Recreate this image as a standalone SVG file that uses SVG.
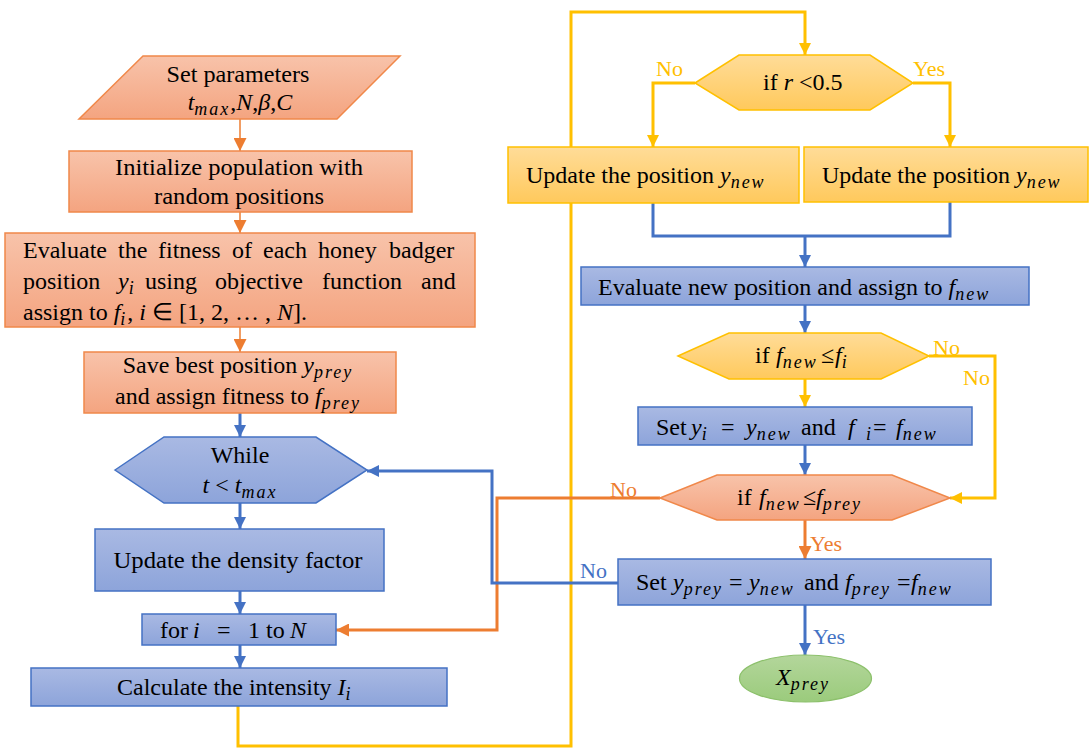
<svg xmlns="http://www.w3.org/2000/svg" width="1089" height="749" viewBox="0 0 1089 749">
<defs>
<linearGradient id="gO" x1="0" y1="0" x2="0" y2="1"><stop offset="0" stop-color="#F8C3AA"/><stop offset="1" stop-color="#F4A480"/></linearGradient>
<linearGradient id="gB" x1="0" y1="0" x2="0" y2="1"><stop offset="0" stop-color="#A9B9E3"/><stop offset="1" stop-color="#8DA4DA"/></linearGradient>
<linearGradient id="gY" x1="0" y1="0" x2="0" y2="1"><stop offset="0" stop-color="#FFDC98"/><stop offset="1" stop-color="#FFC95C"/></linearGradient>
<linearGradient id="gG" x1="0" y1="0" x2="0" y2="1"><stop offset="0" stop-color="#B3D69B"/><stop offset="1" stop-color="#9BCB7C"/></linearGradient>
<marker id="aO" viewBox="0 0 10 10" refX="10" refY="5" markerWidth="13" markerHeight="13" markerUnits="userSpaceOnUse" orient="auto"><path d="M0,0 L10,5 L0,10 z" fill="#ED7D31"/></marker>
<marker id="aB" viewBox="0 0 10 10" refX="10" refY="5" markerWidth="12" markerHeight="12" markerUnits="userSpaceOnUse" orient="auto"><path d="M0,0 L10,5 L0,10 z" fill="#4472C4"/></marker>
<marker id="aY" viewBox="0 0 10 10" refX="10" refY="5" markerWidth="12" markerHeight="12" markerUnits="userSpaceOnUse" orient="auto"><path d="M0,0 L10,5 L0,10 z" fill="#FFC000"/></marker>
</defs>
<style>
.o{fill:url(#gO);stroke:#F0884A;stroke-width:1.5}
.b{fill:url(#gB);stroke:#4472C4;stroke-width:1.5}
.y{fill:url(#gY);stroke:#FFC000;stroke-width:1.5}
.g{fill:url(#gG);stroke:#8CC06B;stroke-width:1.2}
.t{font-family:"Liberation Serif","Times New Roman",serif;font-size:24px;fill:#000}
.c{text-anchor:middle}
.m{font-style:italic}
.s{font-style:italic;font-size:18px;letter-spacing:2px}
.l{font-family:"Liberation Serif","Times New Roman",serif;font-size:22px}
.cO{fill:none;stroke:#ED7D31}
.cB{fill:none;stroke:#4472C4;stroke-width:3}
.cY{fill:none;stroke:#FFC000;stroke-width:3}
</style>

<g id="connectors" stroke-linejoin="miter">
<path class="cO" stroke-width="1.5" d="M240,119 V151" marker-end="url(#aO)"/>
<path class="cO" stroke-width="1.5" d="M240,212 V233" marker-end="url(#aO)"/>
<path class="cO" stroke-width="1.5" d="M240,327 V352" marker-end="url(#aO)"/>
<path class="cB" d="M240,413 V437" marker-end="url(#aB)"/>
<path class="cB" d="M240,503 V529" marker-end="url(#aB)"/>
<path class="cB" d="M240,591 V614" marker-end="url(#aB)"/>
<path class="cB" d="M240,645 V668" marker-end="url(#aB)"/>
<path class="cY" d="M238,706 V746 H571 V12 H805 V55" marker-end="url(#aY)"/>
<path class="cY" d="M695,83 H653 V147" marker-end="url(#aY)"/>
<path class="cY" d="M913,83 H950 V147" marker-end="url(#aY)"/>
<path class="cB" d="M653,203 V236 H950 V202"/>
<path class="cB" d="M805,236 V267" marker-end="url(#aB)"/>
<path class="cB" d="M805,305 V333" marker-end="url(#aB)"/>
<path class="cY" d="M805,379 V407" marker-end="url(#aY)"/>
<path class="cY" d="M929,356 H995 V498 H950" marker-end="url(#aY)"/>
<path class="cB" d="M805,445 V475" marker-end="url(#aB)"/>
<path class="cO" stroke-width="3" d="M660,498 H497 V630 H336" marker-end="url(#aO)"/>
<path class="cO" stroke-width="3" d="M805,520 V559" marker-end="url(#aO)"/>
<path class="cB" d="M618,583 H492 V471 H367" marker-end="url(#aB)"/>
<path class="cB" d="M805,605 V655" marker-end="url(#aB)"/>
<text class="l" x="656" y="76" fill="#FFC000">No</text>
<text class="l" x="913" y="76" fill="#FFC000">Yes</text>
<text class="l" x="933" y="355" fill="#FFC000">No</text>
<text class="l" x="963" y="385" fill="#FFC000">No</text>
<text class="l" x="610" y="497" fill="#ED7D31">No</text>
<text class="l" x="810" y="551" fill="#ED7D31">Yes</text>
<text class="l" x="580" y="578" fill="#4472C4">No</text>
<text class="l" x="813" y="644" fill="#4472C4">Yes</text>
</g>

<g id="n1">
<polygon class="o" points="143,56 400,56 337,119 79,119"/>
<text class="t c" x="238" y="82" textLength="143" lengthAdjust="spacingAndGlyphs">Set parameters</text>
<text class="t c" x="240" y="110"><tspan class="m">t</tspan><tspan class="s" dy="5">max</tspan><tspan dy="-5">,</tspan><tspan class="m">N</tspan>,<tspan class="m">β</tspan>,<tspan class="m">C</tspan></text>
</g>
<g id="n2">
<rect class="o" x="69" y="151" width="343" height="61"/>
<text class="t c" x="239" y="175" textLength="248" lengthAdjust="spacingAndGlyphs">Initialize population with</text>
<text class="t c" x="239" y="204" textLength="170" lengthAdjust="spacingAndGlyphs">random positions</text>
</g>
<g id="n3">
<rect class="o" x="5" y="233" width="470" height="94"/>
<text class="t" y="258"><tspan x="23">Evaluate</tspan><tspan x="118">the</tspan><tspan x="158">fitness</tspan><tspan x="232">of</tspan><tspan x="263">each</tspan><tspan x="318">honey</tspan><tspan x="389">badger</tspan></text>
<text class="t" y="289"><tspan x="23">position</tspan><tspan x="118" class="m">y</tspan><tspan class="s" dy="5">i</tspan><tspan x="145" dy="-5">using</tspan><tspan x="215">objective</tspan><tspan x="322">function</tspan><tspan x="421">and</tspan></text>
<text class="t" x="23" y="320">assign to <tspan class="m">f</tspan><tspan class="s" dy="5">i</tspan><tspan dy="-5">, </tspan><tspan class="m">i</tspan> ∈ [1, 2, … , <tspan class="m">N</tspan>].</text>
</g>
<g id="n4">
<rect class="o" x="84" y="352" width="312" height="61"/>
<text class="t c" x="238" y="373">Save best position <tspan class="m">y</tspan><tspan class="s" dy="5">prey</tspan></text>
<text class="t c" x="238" y="404">and assign fitness to <tspan class="m">f</tspan><tspan class="s" dy="5">prey</tspan></text>
</g>
<g id="n5">
<polygon class="b" points="115,470 164,437 316,437 367,470 316,503 164,503"/>
<text class="t c" x="240" y="463">While</text>
<text class="t c" x="240" y="493"><tspan class="m">t</tspan> &lt; <tspan class="m">t</tspan><tspan class="s" dy="5">max</tspan></text>
</g>
<g id="n6">
<rect class="b" x="95" y="529" width="289" height="62"/>
<text class="t c" x="238" y="568" textLength="249" lengthAdjust="spacingAndGlyphs">Update the density  factor</text>
</g>
<g id="n7">
<rect class="b" x="142" y="614" width="194" height="31"/>
<text class="t" y="638"><tspan x="160">for</tspan><tspan x="193" class="m">i</tspan><tspan x="217">=</tspan><tspan x="248">1 to</tspan><tspan x="290" class="m">N</tspan></text>
</g>
<g id="n8">
<rect class="b" x="31" y="668" width="416" height="38"/>
<text class="t" x="117" y="695">Calculate the intensity <tspan class="m">I</tspan><tspan class="s" dy="5">i</tspan></text>
</g>
<g id="n9">
<polygon class="y" points="695,83 739,55 870,55 913,83 870,110 739,110"/>
<text class="t" x="763" y="90">if <tspan class="m">r</tspan> &lt;0.5</text>
</g>
<g id="n10">
<rect class="y" x="508" y="147" width="291" height="56"/>
<text class="t" x="526" y="183">Update the position <tspan class="m">y</tspan><tspan class="s" dy="5">new</tspan></text>
</g>
<g id="n11">
<rect class="y" x="804" y="147" width="284" height="55"/>
<text class="t" x="822" y="183">Update the position <tspan class="m">y</tspan><tspan class="s" dy="5">new</tspan></text>
</g>
<g id="n12">
<rect class="b" x="581" y="267" width="448" height="38"/>
<text class="t" x="598" y="295">Evaluate new position and assign to <tspan class="m">f</tspan><tspan class="s" dy="5">new</tspan></text>
</g>
<g id="n13">
<polygon class="y" points="678,356 729,333 881,333 929,356 881,379 729,379"/>
<text class="t" y="363"><tspan x="755">if</tspan><tspan x="776" class="m">f</tspan><tspan class="s" dy="5">new</tspan><tspan x="821" dy="-5">≤</tspan><tspan x="835" class="m">f</tspan><tspan class="s" dy="5">i</tspan></text>
</g>
<g id="n14">
<rect class="b" x="638" y="407" width="334" height="38"/>
<text class="t" y="435"><tspan x="656">Set</tspan><tspan x="691" class="m">y</tspan><tspan class="s" dy="5">i</tspan><tspan x="721" dy="-5">=</tspan><tspan x="746" class="m">y</tspan><tspan class="s" dy="5">new</tspan><tspan x="801" dy="-5">and</tspan><tspan x="848" class="m">f</tspan><tspan x="866" class="s" dy="5">i</tspan><tspan x="873" dy="-5">=</tspan><tspan x="896" class="m">f</tspan><tspan class="s" dy="5">new</tspan></text>
</g>
<g id="n15">
<polygon class="o" points="660,498 717,475 892,475 950,498 892,520 717,520"/>
<text class="t" y="505"><tspan x="737">if</tspan><tspan x="759" class="m">f</tspan><tspan class="s" dy="5">new</tspan><tspan x="803" dy="-5">≤</tspan><tspan x="816" class="m">f</tspan><tspan class="s" dy="5">prey</tspan></text>
</g>
<g id="n16">
<rect class="b" x="618" y="559" width="373" height="46"/>
<text class="t" y="590"><tspan x="636">Set</tspan><tspan x="673" class="m">y</tspan><tspan class="s" dy="5">prey</tspan><tspan x="729" dy="-5">=</tspan><tspan x="749" class="m">y</tspan><tspan class="s" dy="5">new</tspan><tspan x="804" dy="-5">and</tspan><tspan x="845" class="m">f</tspan><tspan class="s" dy="5">prey</tspan><tspan x="897" dy="-5">=</tspan><tspan x="911" class="m">f</tspan><tspan class="s" dy="5">new</tspan></text>
</g>
<g id="n17">
<ellipse class="g" cx="805.5" cy="678.5" rx="66" ry="23.5"/>
<text class="t c" x="803" y="685"><tspan class="m">X</tspan><tspan class="s" dy="5">prey</tspan></text>
</g>
</svg>
